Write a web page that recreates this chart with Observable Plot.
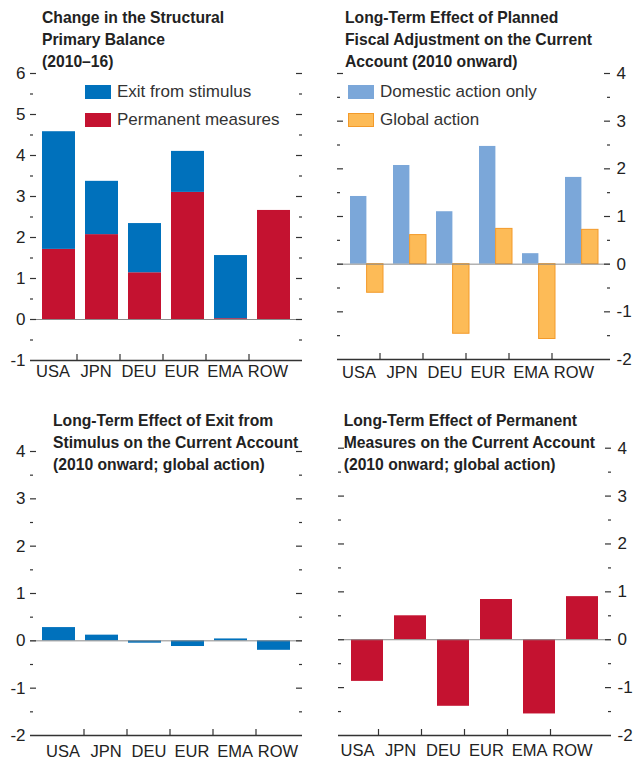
<!DOCTYPE html>
<html>
<head>
<meta charset="utf-8">
<script src="https://cdn.jsdelivr.net/npm/d3@7"></script>
<script src="https://cdn.jsdelivr.net/npm/@observablehq/plot@0.6"></script>
<style>
  html, body { margin: 0; padding: 0; background: #fff; }
  #root { position: relative; width: 634px; height: 762px; overflow: hidden;
          font-family: "Liberation Sans", Arial, sans-serif; color: #222; }
  .title { position: absolute; font-weight: bold; font-size: 15.7px; line-height: 22px; color: #222; white-space: nowrap; }
  .leg { position: absolute; font-size: 17px; color: #333; white-space: nowrap; line-height: 16px; }
  .sw { position: absolute; width: 26px; height: 14px; box-sizing: border-box; }
</style>
</head>
<body>
<div id="root"></div>
<script>
const categories = ["USA", "JPN", "DEU", "EUR", "EMA", "ROW"];
// Panel 1: change in structural primary balance (2010-16)
const exitFromStimulus = [2.87, 1.30, 1.20, 1.00, 1.54, 0.00];
const permanentMeasures = [1.71, 2.07, 1.14, 3.10, 0.02, 2.66];
// Panel 2: long-term effect of planned fiscal adjustment on the current account
const domesticActionOnly = [1.42, 2.07, 1.10, 2.47, 0.22, 1.82];
const globalAction = [-0.60, 0.61, -1.46, 0.74, -1.57, 0.72];
// Panel 3: long-term effect of exit from stimulus on the current account
const exitStimulusCA = [0.28, 0.12, -0.05, -0.12, 0.04, -0.20];
// Panel 4: long-term effect of permanent measures on the current account
const permanentMeasuresCA = [-0.87, 0.50, -1.39, 0.84, -1.55, 0.90];

const ticks1 = [-1, 0, 1, 2, 3, 4, 5, 6];
const minor1 = [-0.5, 0.5, 1.5, 2.5, 3.5, 4.5, 5.5];
const ticksCA = [-2, -1, 0, 1, 2, 3, 4];
const minorCA = [-1.5, -0.5, 0.5, 1.5, 2.5, 3.5];

const BLUE = "#0071bc", RED = "#c41230", LBLUE = "#7ba7d9", ORANGE = "#fdbb57", ORANGE_S = "#f39a2a";
const FONT = '"Liberation Sans", Arial, sans-serif';

const root = document.getElementById("root");

function frameMarks(o) {
  const fw = o.width - o.marginLeft - o.marginRight;
  const fh = o.height - o.marginTop - o.marginBottom;
  const ymin = o.yDomain[0];
  return [
    Plot.ruleY([0], {stroke: "#8a8a8a", strokeWidth: 1}),
    Plot.ruleY([ymin], {stroke: "#333", strokeWidth: 1.5}),
    Plot.ruleY(o.ticks.filter(d => d !== ymin), {stroke: "#333", strokeWidth: 1.2, insetRight: fw - 6}),
    Plot.ruleY(o.minor, {stroke: "#333", strokeWidth: 1.2, insetRight: fw - 3}),
    Plot.ruleY(o.ticks.filter(d => d !== ymin), {stroke: "#333", strokeWidth: 1.2, insetLeft: fw - 6}),
    Plot.ruleY(o.minor, {stroke: "#333", strokeWidth: 1.2, insetLeft: fw - 3}),
    Plot.ruleX(categories.slice(0, 5), {x: d => d, dx: o.tickDx, insetTop: fh - 6, stroke: "#333", strokeWidth: 1.2}),
    Plot.axisX({tickSize: 0, tickPadding: o.xPad, dx: o.labelDx, fontSize: 16.5, fill: "#222", label: null}),
    Plot.axisY({ticks: o.ticks, anchor: o.yAnchor, tickSize: 0, tickPadding: o.yPad, label: null,
                tickFormat: d => String(d), fontSize: 17, fill: "#222"})
  ];
}

function makePlot(o, dataMarks) {
  const svg = Plot.plot({
    width: o.width, height: o.height,
    marginTop: o.marginTop, marginBottom: o.marginBottom,
    marginLeft: o.marginLeft, marginRight: o.marginRight,
    x: {domain: categories, padding: o.padding, axis: null},
    y: {domain: o.yDomain, axis: null},
    color: o.color,
    style: {fontFamily: FONT, fontSize: "17px", color: "#222", background: "transparent", overflow: "visible"},
    marks: [...dataMarks, ...frameMarks(o)]
  });
  svg.style.position = "absolute";
  svg.style.left = o.left + "px";
  svg.style.top = o.top + "px";
  root.appendChild(svg);
}

function addTitle(lines, x, y) {
  const d = document.createElement("div");
  d.className = "title";
  d.style.left = x + "px"; d.style.top = y + "px";
  d.innerHTML = lines.join("<br>");
  root.appendChild(d);
}
function addLegend(items, x, y) {
  items.forEach((it, i) => {
    const s = document.createElement("div");
    s.className = "sw";
    s.style.left = x + "px"; s.style.top = (y + i * 28) + "px";
    s.style.background = it.fill;
    if (it.stroke) s.style.border = "1px solid " + it.stroke;
    root.appendChild(s);
    const t = document.createElement("div");
    t.className = "leg";
    t.style.left = (x + 32) + "px"; t.style.top = (y - 1 + i * 28) + "px";
    t.textContent = it.label;
    root.appendChild(t);
  });
}

// Panel 1
const p1data = [];
categories.forEach((c, i) => {
  p1data.push({cat: c, series: "Permanent measures", value: permanentMeasures[i]});
  p1data.push({cat: c, series: "Exit from stimulus", value: exitFromStimulus[i]});
});
makePlot({
  left: 0, top: 0, width: 317, height: 390,
  marginTop: 73, marginBottom: 30, marginLeft: 30, marginRight: 15,
  padding: 0.24, yDomain: [-1, 6], ticks: ticks1, minor: minor1,
  tickDx: 18, labelDx: -6, xPad: 5, yAnchor: "left", yPad: 5,
  color: {domain: ["Exit from stimulus", "Permanent measures"], range: [BLUE, RED]}
}, [
  Plot.barY(p1data, {x: "cat", y: "value", fill: "series",
    order: ["Permanent measures", "Exit from stimulus"]})
]);

// Panel 2
const p2dom = categories.map((c, i) => ({cat: c, value: domesticActionOnly[i]}));
const p2glob = categories.map((c, i) => ({cat: c, value: globalAction[i]}));
makePlot({
  left: 317, top: 0, width: 317, height: 390,
  marginTop: 73, marginBottom: 31, marginLeft: 20, marginRight: 24,
  padding: 0.24, yDomain: [-2, 4], ticks: ticksCA, minor: minorCA,
  tickDx: 13, labelDx: -8, xPad: 7, yAnchor: "right", yPad: 6
}, [
  Plot.barY(p2dom, {x: "cat", y: "value", fill: LBLUE, insetRight: 16.6}),
  Plot.barY(p2glob, {x: "cat", y: "value", fill: ORANGE, stroke: ORANGE_S, strokeWidth: 1, insetLeft: 16.6})
]);

// Panel 3
const p3 = categories.map((c, i) => ({cat: c, value: exitStimulusCA[i]}));
makePlot({
  left: 0, top: 390, width: 317, height: 372,
  marginTop: 61, marginBottom: 27, marginLeft: 30, marginRight: 15,
  padding: 0.24, yDomain: [-2, 4], ticks: ticksCA, minor: minorCA,
  tickDx: 25, labelDx: 4, xPad: 10, yAnchor: "left", yPad: 5
}, [
  Plot.barY(p3, {x: "cat", y: "value", fill: BLUE})
]);

// Panel 4
const p4 = categories.map((c, i) => ({cat: c, value: permanentMeasuresCA[i]}));
makePlot({
  left: 317, top: 390, width: 317, height: 372,
  marginTop: 57.7, marginBottom: 27, marginLeft: 21, marginRight: 23,
  padding: 0.247, yDomain: [-2, 4], ticks: ticksCA, minor: minorCA,
  tickDx: 11, labelDx: -10, xPad: 9, yAnchor: "right", yPad: 6
}, [
  Plot.barY(p4, {x: "cat", y: "value", fill: RED})
]);

addTitle(["Change in the Structural", "Primary Balance", "(2010\u201316)"], 42, 7.4);
addTitle(["Long-Term Effect of Planned", "Fiscal Adjustment on the Current", "Account (2010 onward)"], 345, 7.4);
addTitle(["Long-Term Effect of Exit from", "Stimulus on the Current Account", "(2010 onward; global action)"], 53, 409.7);
addTitle(["Long-Term Effect of Permanent", "Measures on the Current Account", "(2010 onward; global action)"], 343.7, 409.7);

addLegend([{label: "Exit from stimulus", fill: BLUE}, {label: "Permanent measures", fill: RED}], 85, 85);
addLegend([{label: "Domestic action only", fill: LBLUE}, {label: "Global action", fill: ORANGE, stroke: ORANGE_S}], 348, 85);
</script>
</body>
</html>
